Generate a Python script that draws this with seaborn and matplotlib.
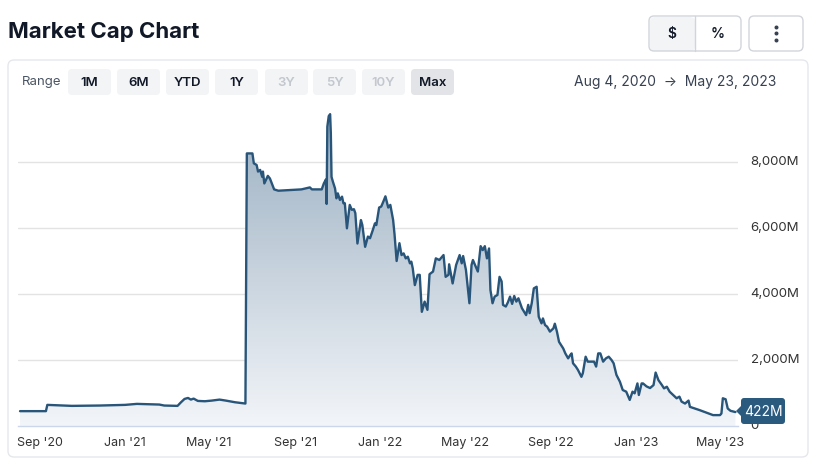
import numpy as np
import pandas as pd
import matplotlib
matplotlib.use("Agg")
import matplotlib.pyplot as plt
import matplotlib.dates as mdates
from matplotlib.patches import FancyBboxPatch, Rectangle, Polygon
from matplotlib.ticker import FuncFormatter
import seaborn as sns

# ---------------- data (market cap, millions USD) ----------------
dates = [
    "2020-08-04", "2020-09-10", "2020-09-12", "2020-10-17", "2020-11-26", "2021-01-01", "2021-01-18",
    "2021-02-05", "2021-02-19", "2021-02-26", "2021-03-17", "2021-03-22", "2021-03-27", "2021-04-01",
    "2021-04-05", "2021-04-09", "2021-04-15", "2021-04-25", "2021-05-05", "2021-05-16", "2021-05-25",
    "2021-06-07", "2021-06-22", "2021-06-24",
    "2021-07-02", "2021-07-04", "2021-07-08", "2021-07-10", "2021-07-13", "2021-07-16", "2021-07-17",
    "2021-07-19", "2021-07-24", "2021-07-27", "2021-08-02", "2021-08-08", "2021-08-24", "2021-09-10",
    "2021-09-22", "2021-09-25", "2021-10-09", "2021-10-12", "2021-10-15", "2021-10-16", "2021-10-17",
    "2021-10-19", "2021-10-21", "2021-10-22", "2021-10-23", "2021-10-25", "2021-10-28", "2021-10-30",
    "2021-11-01", "2021-11-04", "2021-11-07", "2021-11-09", "2021-11-11", "2021-11-14", "2021-11-18",
    "2021-11-21", "2021-11-24", "2021-11-26", "2021-11-29", "2021-12-04", "2021-12-06", "2021-12-10",
    "2021-12-14", "2021-12-17", "2021-12-21", "2021-12-24", "2021-12-26", "2021-12-30",
    "2022-01-02", "2022-01-05", "2022-01-08", "2022-01-12", "2022-01-15", "2022-01-19", "2022-01-21",
    "2022-01-24", "2022-01-28", "2022-01-31", "2022-02-03", "2022-02-06", "2022-02-09", "2022-02-12",
    "2022-02-14", "2022-02-16", "2022-02-19", "2022-02-23", "2022-02-26", "2022-03-01", "2022-03-05",
    "2022-03-09", "2022-03-12", "2022-03-17", "2022-03-21", "2022-03-26", "2022-04-01", "2022-04-04",
    "2022-04-08", "2022-04-09", "2022-04-14", "2022-04-19", "2022-04-24", "2022-04-27", "2022-04-29",
    "2022-05-03", "2022-05-08", "2022-05-11", "2022-05-13", "2022-05-17", "2022-05-20", "2022-05-24",
    "2022-05-27", "2022-05-30", "2022-06-02", "2022-06-05", "2022-06-07", "2022-06-10", "2022-06-13",
    "2022-06-17", "2022-06-20", "2022-06-23", "2022-06-25", "2022-06-29", "2022-07-02", "2022-07-05",
    "2022-07-08", "2022-07-11", "2022-07-14", "2022-07-17", "2022-07-22", "2022-07-24", "2022-07-28",
    "2022-07-31", "2022-08-02", "2022-08-05", "2022-08-08", "2022-08-12", "2022-08-15", "2022-08-19",
    "2022-08-21", "2022-08-24", "2022-08-27", "2022-08-31", "2022-09-05", "2022-09-07", "2022-09-10",
    "2022-09-13", "2022-09-19", "2022-09-22", "2022-09-26", "2022-09-29", "2022-10-01", "2022-10-03",
    "2022-10-07", "2022-10-10", "2022-10-15", "2022-10-17", "2022-10-21", "2022-10-24", "2022-10-29",
    "2022-11-02", "2022-11-05", "2022-11-08", "2022-11-11", "2022-11-15", "2022-11-19", "2022-11-23",
    "2022-11-27", "2022-11-30", "2022-12-04", "2022-12-09", "2022-12-13", "2022-12-18", "2022-12-23",
    "2022-12-27", "2022-12-30",
    "2023-01-03", "2023-01-05", "2023-01-09", "2023-01-11", "2023-01-16", "2023-01-21", "2023-01-26",
    "2023-01-29", "2023-02-02", "2023-02-07", "2023-02-10", "2023-02-14", "2023-02-18", "2023-02-23",
    "2023-02-28", "2023-03-04", "2023-03-07", "2023-03-12", "2023-03-17", "2023-03-19", "2023-03-26",
    "2023-04-02", "2023-04-12", "2023-04-21", "2023-05-01", "2023-05-03", "2023-05-05", "2023-05-09",
    "2023-05-12", "2023-05-16", "2023-05-23",
]
market_cap = [
    450, 450, 640, 610, 620, 640, 670, 660, 650, 620, 610, 720, 820, 850, 800, 830, 760, 750, 770, 800,
    770, 720, 680, 8260,
    8260, 7960, 7910, 7710, 7760, 7550, 7710, 7350, 7580, 7500, 7170, 7130, 7150, 7170, 7230, 7170,
    7170, 7350, 7470, 6730, 9070, 9390, 9450, 8870, 7550, 7400, 7200, 6900, 7050, 6850, 6950, 6750,
    6750, 5990, 6700, 6550, 6570, 6450, 5530, 6240, 6090, 5430, 5740, 5690, 5940, 6140, 6090, 6620,
    6650, 6800, 6960, 6620, 6700, 6240, 5810, 5000, 5540, 5180, 5230, 5080, 5130, 4930, 4980, 4780,
    4270, 4580, 4580, 3460, 3770, 3520, 4600, 4680, 5080, 5030, 5180, 4520, 4580, 4900, 4320, 4880,
    5180, 4930, 5150, 4730, 3720, 4880, 5030, 4830, 4680, 5450, 5330, 5450, 5080, 5380, 4120, 3720,
    3920, 3970, 4520, 4380, 3670, 3620, 3750, 3920, 3700, 3940, 3770, 3870, 3570, 3500, 3360, 3670,
    3420, 3720, 4170, 4220, 3310, 3110, 3260, 3060, 3010, 2860, 2960, 3100, 2860, 2550, 2350, 2200,
    2050, 2150, 2200, 1900, 1800, 1700, 1490, 1600, 2100, 1950, 1950, 1950, 1800, 2200, 2200, 1950,
    2050, 2100, 2000, 1900, 1550, 1340, 1090, 1040, 790, 1040, 990,
    1290, 940, 1290, 1290, 1200, 1150, 1240, 1620, 1390, 1240, 1140, 1190, 1040, 940, 840, 890, 740,
    680, 770, 580, 530, 480, 400, 330, 330, 380, 840, 810, 530, 460, 422,
]
x_ticks = ["2020-09-01", "2021-01-01", "2021-05-01", "2021-09-01", "2022-01-01",
           "2022-05-01", "2022-09-01", "2023-01-01", "2023-05-01"]
y_ticks = [0, 2000, 4000, 6000, 8000]
range_buttons = ["1M", "6M", "YTD", "1Y", "3Y", "5Y", "10Y", "Max"]
disabled_buttons = ["3Y", "5Y", "10Y"]
last_label = "422M"

df = pd.DataFrame({"date": pd.to_datetime(dates), "cap": market_cap})

# ---------------- styling ----------------
sns.set_theme(style="white")
plt.rcParams["font.family"] = ["Inter", "DejaVu Sans"]

LINE = "#285579"
W, H = 814, 473
fig = plt.figure(figsize=(W / 100, H / 100), dpi=100)

# main chart axes (pixel box: x 18..738, y 100..426)
ax = fig.add_axes([18 / W, (H - 426) / H, 720 / W, 326 / H])
ax.patch.set_alpha(0)

sns.lineplot(data=df, x="date", y="cap", ax=ax, color=LINE, linewidth=1.7, zorder=4)

x0 = mdates.date2num(pd.Timestamp("2020-08-04")) - 2.9
x1 = x0 + 720 / 0.7
ax.set_xlim(x0, x1)
ax.set_ylim(0, 326 / 0.033)

# gradient fill under the line
poly = ax.fill_between(df["date"], df["cap"], 0, facecolor="none", edgecolor="none")
top_c = np.array([0.61, 0.69, 0.76])
bot_c = np.array([0.95, 0.96, 0.975])
t = np.linspace(0, 1, 256)[:, None]
grad = (top_c[None, :] * (1 - t) + bot_c[None, :] * t)[:, None, :]
ymax = max(market_cap)
im = ax.imshow(grad, extent=[mdates.date2num(df["date"].iloc[0]), mdates.date2num(df["date"].iloc[-1]), 0, ymax],
               aspect="auto", origin="upper", zorder=2)
im.set_clip_path(poly.get_paths()[0], transform=ax.transData)
ax.set_xlim(x0, x1)
ax.set_ylim(0, 326 / 0.033)

# axes styling
for s in ["top", "left", "right"]:
    ax.spines[s].set_visible(False)
ax.spines["bottom"].set_color("#ccd6eb")
ax.spines["bottom"].set_linewidth(1)
ax.set_xlabel("")
ax.set_ylabel("")
ax.set_xticks(pd.to_datetime(x_ticks))
ax.xaxis.set_major_formatter(mdates.DateFormatter("%b '%y"))
ax.tick_params(axis="x", direction="out", length=5, width=1, color="#ccd6eb",
               labelsize=9, labelcolor="#333333", pad=3)
ax.yaxis.tick_right()
ax.set_yticks(y_ticks)
ax.yaxis.set_major_formatter(FuncFormatter(lambda v, p: "0" if v == 0 else f"{int(v):,}M"))
ax.tick_params(axis="y", length=0, labelsize=9.5, labelcolor="#333333", pad=9)
for lab in ax.get_yticklabels():
    lab.set_verticalalignment("center")
for yv in y_ticks[1:]:
    ax.axhline(yv, color="#e3e3e3", linewidth=1, zorder=1)

# ---------------- UI overlay (pixel coordinates) ----------------
ui = fig.add_axes([0, 0, 1, 1], zorder=5)
ui.set_xlim(0, W)
ui.set_ylim(H, 0)
ui.axis("off")

ui.text(8, 32, "Market Cap Chart", fontsize=16, fontweight="bold", color="#111827",
        va="center", ha="left")

# $ / % toggle
ui.add_patch(FancyBboxPatch((650, 17), 45, 34, boxstyle="round,pad=0,rounding_size=5",
                            facecolor="#f3f4f6", edgecolor="none"))
ui.add_patch(FancyBboxPatch((649, 16), 92, 35, boxstyle="round,pad=0,rounding_size=5",
                            facecolor="none", edgecolor="#d1d5db", linewidth=1))
ui.plot([695, 695], [16, 51], color="#d1d5db", linewidth=1)
ui.text(672, 34, "$", fontsize=10, fontweight="semibold", color="#111827", ha="center", va="center")
ui.text(718, 34, "%", fontsize=10, fontweight="semibold", color="#111827", ha="center", va="center")
# menu button
ui.add_patch(FancyBboxPatch((749, 16), 54, 35, boxstyle="round,pad=0,rounding_size=5",
                            facecolor="white", edgecolor="#d1d5db", linewidth=1))
ui.scatter([776, 776, 776], [27, 33.5, 40], s=3.5, color="#374151", zorder=6)

# card
ui.add_patch(FancyBboxPatch((8, 60), 800, 397, boxstyle="round,pad=0,rounding_size=6",
                            facecolor="none", edgecolor="#e5e7eb", linewidth=1))

# range row
ui.text(22, 82, "Range", fontsize=9.5, color="#4b5563", ha="left", va="center")
btn_x = [68, 117, 166, 215, 265, 313, 362, 411]
for bx, lab in zip(btn_x, range_buttons):
    face = "#e3e4e8" if lab == "Max" else "#f3f4f6"
    ui.add_patch(FancyBboxPatch((bx, 69), 43, 26, boxstyle="round,pad=0,rounding_size=4",
                                facecolor=face, edgecolor="none"))
    col = "#c3c7ce" if lab in disabled_buttons else "#111827"
    ui.text(bx + 21.5, 82.5, lab, fontsize=9.5, fontweight="semibold", color=col,
            ha="center", va="center")
ui.text(776, 82, "Aug 4, 2020  \u2192  May 23, 2023", fontsize=10, color="#374151",
        ha="right", va="center", family=["Inter", "DejaVu Sans"])

# last value tag
ui.add_patch(FancyBboxPatch((741, 398), 44, 26, boxstyle="round,pad=0,rounding_size=3",
                            facecolor="#2b5a7f", edgecolor="none", zorder=6))
ui.add_patch(Polygon([[736, 411], [742, 405], [742, 417]], closed=True,
                     facecolor="#2b5a7f", edgecolor="none", zorder=6))
ui.text(763, 411.5, last_label, fontsize=10, color="white", ha="center", va="center", zorder=7)

fig.savefig("out.png", dpi=100)
